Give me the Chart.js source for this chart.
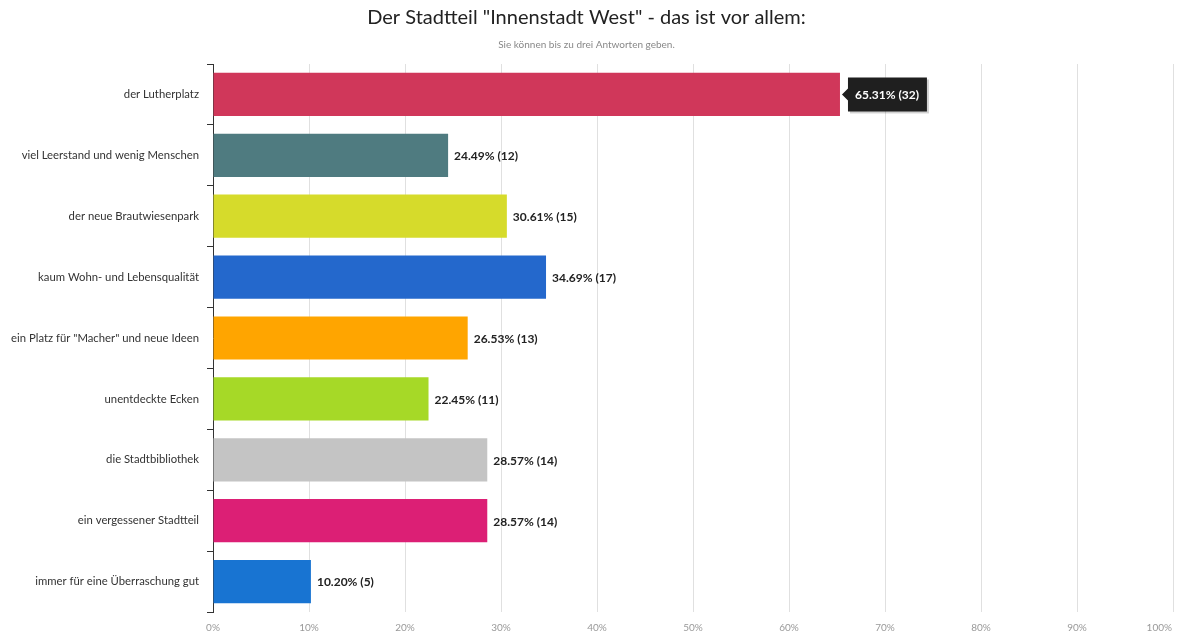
<!DOCTYPE html>
<html>
<head>
<meta charset="utf-8">
<script src="https://cdn.jsdelivr.net/npm/chart.js@4/dist/chart.umd.min.js"></script>
<style>
  html, body { margin: 0; padding: 0; background: #fff; }
  #wrap { width: 1180px; height: 635px; }
</style>
</head>
<body>
<div id="wrap"><canvas id="c" width="1180" height="635"></canvas></div>
<script>
const categories = [
  'der Lutherplatz',
  'viel Leerstand und wenig Menschen',
  'der neue Brautwiesenpark',
  'kaum Wohn- und Lebensqualität',
  'ein Platz für "Macher" und neue Ideen',
  'unentdeckte Ecken',
  'die Stadtbibliothek',
  'ein vergessener Stadtteil',
  'immer für eine Überraschung gut'
];
const percentages = [65.31, 24.49, 30.61, 34.69, 26.53, 22.45, 28.57, 28.57, 10.20];
const counts = [32, 12, 15, 17, 13, 11, 14, 14, 5];
const barColors = ['#D0375A', '#4F7B80', '#D6DB2B', '#2468CC', '#FFA500', '#A6D927', '#C4C4C4', '#DC1F75', '#1874D2'];
const xTicks = [0, 10, 20, 30, 40, 50, 60, 70, 80, 90, 100];
const titleText = 'Der Stadtteil "Innenstadt West" - das ist vor allem:';
const subtitleText = 'Sie können bis zu drei Antworten geben.';
const highlightIndex = 0;

const FONT = 'Lato, "Open Sans", sans-serif';

const labelPlugin = {
  id: 'valueLabels',
  afterDraw(chart) {
    const ctx = chart.ctx;
    const meta = chart.getDatasetMeta(0);
    ctx.save();
    // last x tick label, kept inside the canvas (right-aligned at its gridline)
    const xs = chart.scales.x;
    const lastVal = xTicks[xTicks.length - 1];
    ctx.font = '10px ' + FONT;
    ctx.fillStyle = '#999';
    ctx.textAlign = 'right';
    ctx.textBaseline = 'middle';
    ctx.fillText(lastVal + '%', xs.getPixelForValue(lastVal) - 1, chart.chartArea.bottom + 16);

    meta.data.forEach((bar, i) => {
      const txt = percentages[i].toFixed(2) + '% (' + counts[i] + ')';
      ctx.font = 'bold 12px ' + FONT;
      ctx.textBaseline = 'middle';
      ctx.textAlign = 'left';
      if (i === highlightIndex) {
        const w = ctx.measureText(txt).width + 15;
        const h = 34;
        const x0 = bar.x + 8;
        const y0 = bar.y - h / 2;
        ctx.fillStyle = 'rgba(0,0,0,0.18)';
        ctx.fillRect(x0 + 2, y0 + 2, w, h);
        ctx.fillStyle = '#1f1f1f';
        ctx.beginPath();
        ctx.moveTo(x0, y0);
        ctx.lineTo(x0 + w, y0);
        ctx.lineTo(x0 + w, y0 + h);
        ctx.lineTo(x0, y0 + h);
        ctx.lineTo(x0, bar.y + 6);
        ctx.lineTo(x0 - 6, bar.y);
        ctx.lineTo(x0, bar.y - 6);
        ctx.closePath();
        ctx.fill();
        ctx.fillStyle = '#ffffff';
        ctx.fillText(txt, x0 + 7, bar.y + 1);
      } else {
        ctx.fillStyle = '#222';
        ctx.fillText(txt, bar.x + 6, bar.y + 1);
      }
    });
    ctx.restore();
  }
};

new Chart(document.getElementById('c'), {
  type: 'bar',
  data: {
    labels: categories,
    datasets: [{
      data: percentages,
      backgroundColor: barColors,
      borderWidth: 0,
      categoryPercentage: 1.0,
      barPercentage: 0.71
    }]
  },
  options: {
    indexAxis: 'y',
    responsive: false,
    animation: false,
    events: [],
    layout: { padding: { left: 0, right: 7, top: 0, bottom: 0 } },
    plugins: {
      legend: { display: false },
      tooltip: { enabled: false },
      title: {
        display: true,
        text: titleText,
        color: '#222',
        font: { family: FONT, size: 20, weight: 'normal' },
        padding: { top: 6, bottom: 8 }
      },
      subtitle: {
        display: true,
        text: subtitleText,
        color: '#888',
        font: { family: FONT, size: 10 },
        padding: { top: 1, bottom: 13 }
      }
    },
    scales: {
      x: {
        min: 0,
        max: 100,
        afterBuildTicks(scale) { scale.ticks = xTicks.map(v => ({ value: v })); },
        afterFit(scale) {
          scale.height = 23;
          scale.paddingRight = 0;
          scale.paddingLeft = 0;
        },
        ticks: {
          color: '#999',
          font: { family: FONT, size: 10 },
          padding: 10,
          callback: v => (v === xTicks[xTicks.length - 1] ? '' : v + '%')
        },
        grid: { color: '#e0e0e0', drawTicks: false },
        border: { display: false }
      },
      y: {
        afterFit(scale) { scale.width = 213; },
        ticks: {
          color: '#333',
          font: { family: FONT, size: 11.3 },
          padding: 8
        },
        grid: {
          offset: true,
          drawOnChartArea: false,
          drawTicks: true,
          tickLength: 6,
          color: '#333'
        },
        border: { display: true, color: '#333', width: 1 }
      }
    }
  },
  plugins: [labelPlugin]
});
</script>
</body>
</html>
